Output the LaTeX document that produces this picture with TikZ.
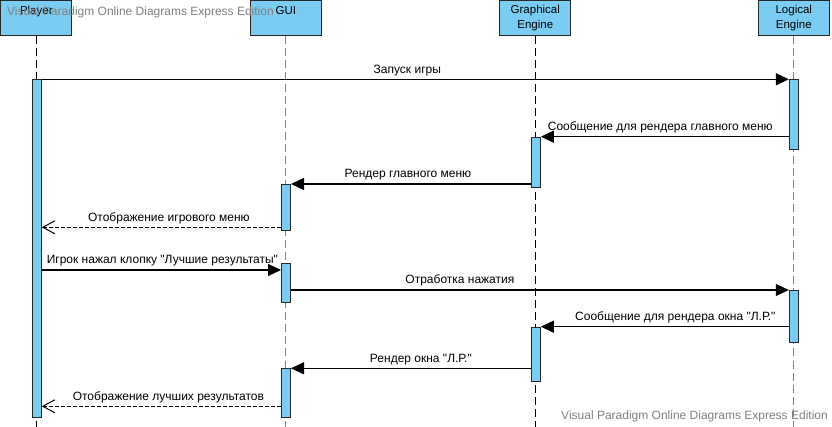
\documentclass[tikz,border=0pt]{standalone}
\usepackage{fontspec}
\setmainfont{Liberation Sans}[Ligatures=TeXOff]
\usetikzlibrary{arrows.meta}
\definecolor{vpblue}{RGB}{122,204,242}
\definecolor{vpframe}{RGB}{40,40,40}
\tikzset{
    head/.style={draw=vpframe, fill=vpblue, line width=1pt, minimum width=71, minimum height=35, anchor=north, align=center, inner sep=0pt, font=\fontsize{11.5}{14.4}\selectfont},
    oneline/.style={text depth=17pt},
    twoline/.style={text depth=3pt},
    life/.style={line width=0.9pt, dash pattern=on 8pt off 4pt},
    bar/.style={draw=vpframe, fill=vpblue, line width=1pt, minimum width=9, inner sep=0pt, anchor=north},
    msg/.style={line width=1.2pt, -{Triangle[length=13pt, width=12pt]}},
    ret/.style={line width=1pt, dash pattern=on 4pt off 2pt, -{Straight Barb[length=12pt, width=13pt]}},
    lbl/.style={above, inner sep=3pt, font=\fontsize{12}{14}\selectfont},
    watermark/.style={text=gray, font=\fontsize{12}{14}\selectfont, inner sep=0pt}
}
\begin{document}
\begin{tikzpicture}[x=1pt, y=-1pt]
    \clip (0,0) rectangle (832,427);
    \fill[white] (0,0) rectangle (832,427);

    \node[head, oneline] (player) at (36.3,0.5) {Player};
    \node[head, oneline] (gui) at (285.8,0.5) {GUI};
    \node[head, twoline] (graph) at (535.3,0.5) {Graphical\\Engine};
    \node[head, twoline] (logic) at (793.8,0.5) {Logical\\Engine};

    \draw[life] (player.south) -- (36.3,427);
    \draw[life, gray] (gui.south) -- (285.8,427);
    \draw[life] (graph.south) -- (535.3,427);
    \draw[life, gray] (logic.south) -- (793.8,427);

    \node[bar, minimum height=338] (pbar) at (36.8,79.3) {};
    \node[bar, minimum height=70] (lbar1) at (793.8,79.3) {};
    \node[bar, minimum height=50.5] (gbar1) at (535.8,136.7) {};
    \node[bar, minimum height=46.3] (ubar1) at (286,184) {};
    \node[bar, minimum height=39] (ubar2) at (286,263.3) {};
    \node[bar, minimum height=52.3] (lbar2) at (793.8,290) {};
    \node[bar, minimum height=54.6] (gbar2) at (535.8,326.7) {};
    \node[bar, minimum height=49] (ubar3) at (286,368.3) {};

    \coordinate (back1) at ([yshift=4]ubar1.south west);
    \coordinate (click) at ([yshift=-6.7]ubar2.north west);
    \coordinate (back2) at ([yshift=12]ubar3.south west);

    \draw[msg] (pbar.north east) -- (lbar1.north west) node[lbl, midway, xshift=-8] {Запуск игры};
    \draw[msg] (lbar1.west |- gbar1.north) -- (gbar1.north east) node[lbl, midway, xshift=-4.5] {Сообщение для рендера главного меню};
    \draw[msg] (gbar1.west |- ubar1.north) -- (ubar1.north east) node[lbl, midway, xshift=-3] {Рендер главного меню};
    \draw[ret] (back1) -- (pbar.east |- back1) node[lbl, midway, xshift=7.5] {Отображение игрового меню};
    \draw[msg] (pbar.east |- click) -- (click) node[lbl, midway, xshift=1] {Игрок нажал клопку "Лучшие результаты"};
    \draw[msg] (ubar2.east |- lbar2.north) -- (lbar2.north west) node[lbl, midway, xshift=-80] {Отработка нажатия};
    \draw[msg] (lbar2.west |- gbar2.north) -- (gbar2.north east) node[lbl, midway, xshift=10.5] {Сообщение для рендера окна "Л.Р."};
    \draw[msg] (gbar2.west |- ubar3.north) -- (ubar3.north east) node[lbl, midway, xshift=10] {Рендер окна "Л.Р."};
    \draw[ret] (back2) -- (pbar.east |- back2) node[lbl, midway, xshift=7] {Отображение лучших результатов};

    \node[watermark, anchor=west] (vp1) at (7,12) {Visual Paradigm Online Diagrams Express Edition};
    \node[watermark, anchor=east] (vp2) at (828,416) {Visual Paradigm Online Diagrams Express Edition};
\end{tikzpicture}
\end{document}
